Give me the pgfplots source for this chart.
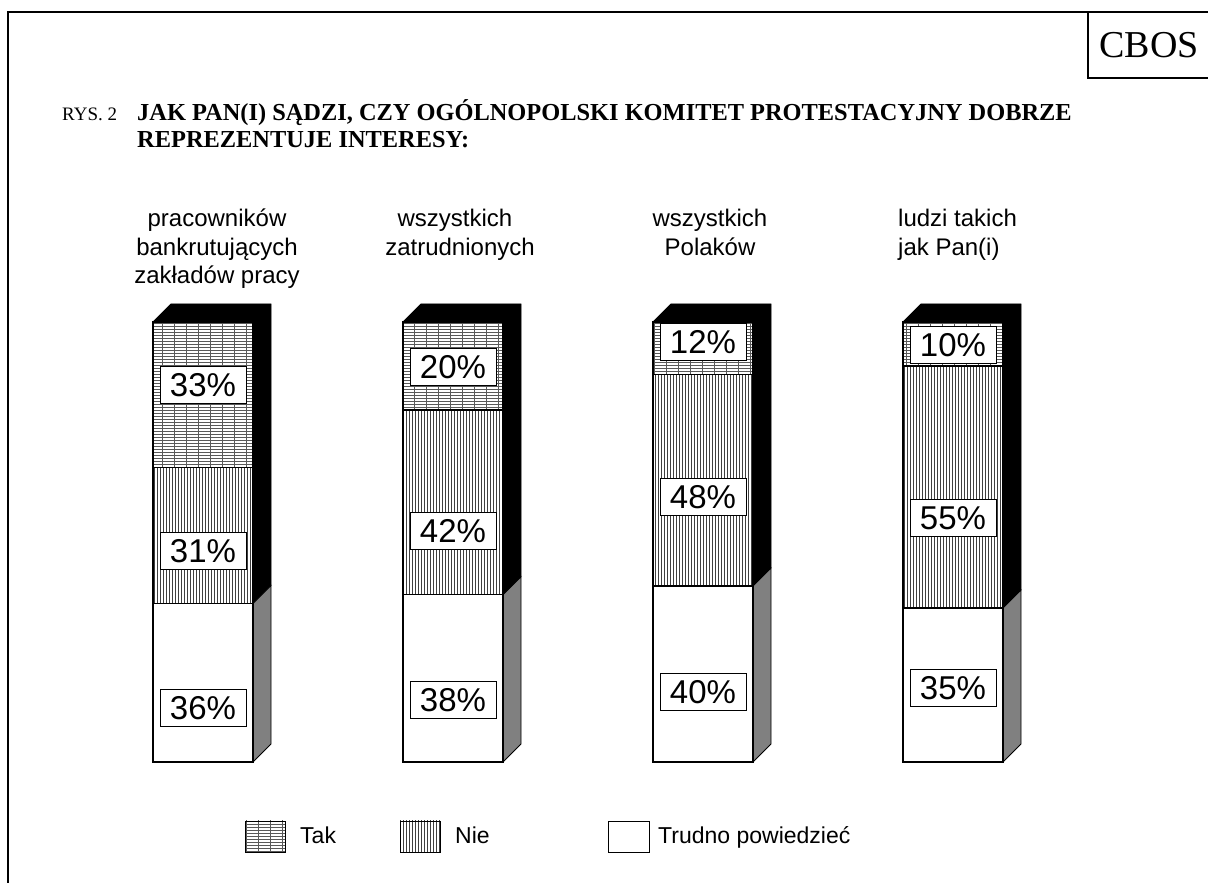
\documentclass[border=0pt]{standalone}
\usepackage{pgfplots}
\pgfplotsset{compat=1.18}
\usepackage{fontspec}
\setmainfont{Liberation Serif}
\newfontfamily\arial{Liberation Sans}
\usetikzlibrary{patterns}
\pgfdeclarepatternformonly{takpat}{\pgfpoint{-1pt}{-1pt}}{\pgfpoint{13pt}{4pt}}{\pgfpoint{12pt}{3pt}}{%
  \pgfsetlinewidth{0.7pt}%
  \pgfpathmoveto{\pgfpoint{-0.5pt}{1.5pt}}\pgfpathlineto{\pgfpoint{12.5pt}{1.5pt}}\pgfusepath{stroke}%
  \pgfsetlinewidth{0.15pt}%
  \pgfpathmoveto{\pgfpoint{6pt}{-0.5pt}}\pgfpathlineto{\pgfpoint{6pt}{3.5pt}}\pgfusepath{stroke}%
}
\pgfdeclarepatternformonly{niepat}{\pgfpoint{-1pt}{-1pt}}{\pgfpoint{4pt}{4pt}}{\pgfpoint{3pt}{3pt}}{%
  \pgfsetlinewidth{0.7pt}%
  \pgfpathmoveto{\pgfpoint{1.5pt}{-0.5pt}}\pgfpathlineto{\pgfpoint{1.5pt}{3.5pt}}\pgfusepath{stroke}%
}
\definecolor{sidegray}{HTML}{808080}
\tikzset{
  lbl/.style={draw=black, fill=white, line width=0.8pt, font=\arial\fontsize{33}{33}\selectfont,
    inner xsep=10pt, inner ysep=0pt, minimum height=37pt, minimum width=86pt},
  cat/.style={font=\arial\fontsize{24}{28.5}\selectfont, anchor=base, inner sep=0pt},
  leg/.style={font=\arial\fontsize{23}{27}\selectfont, anchor=base west, inner sep=0pt},
}
\pgfplotsset{base/.style={at={(53pt,121pt)}, anchor=south west, scale only axis,
  width=1050pt, height=440pt, xmin=-0.6, xmax=3.6, ymin=0, ymax=100,
  axis lines=none, clip=false}}
\begin{document}
\begin{tikzpicture}[x=1pt,y=1pt]
\path[use as bounding box] (0,0) rectangle (1208,883);
% frame
\draw[line width=2pt] (8,0) -- (8,871) -- (1210,871);
\draw[line width=1.6pt] (1088,871) -- (1088,805) -- (1210,805);
\node[font=\fontsize{38}{38}\selectfont] at (1149,838) {CBOS};
% header
\node[anchor=base west, inner sep=0pt, font=\fontsize{19}{22}\selectfont] at (62,762) {RYS. 2};
\node[anchor=base west, inner sep=0pt, font=\bfseries\fontsize{24.4}{27}\selectfont] at (137,762) {JAK PAN(I) SĄDZI, CZY OGÓLNOPOLSKI KOMITET PROTESTACYJNY DOBRZE};
\node[anchor=base west, inner sep=0pt, font=\bfseries\fontsize{24.4}{27}\selectfont] at (137,735) {REPREZENTUJE INTERESY:};
% category labels
\node[cat] at (217,656) {pracowników};
\node[cat] at (217,627.5) {bankrutujących};
\node[cat] at (217,599) {zakładów pracy};
\node[cat] at (455,656) {wszystkich};
\node[cat] at (460,627.5) {zatrudnionych};
\node[cat] at (710,656) {wszystkich};
\node[cat] at (710,627.5) {Polaków};
\node[cat, anchor=base west] at (898,656) {ludzi takich};
\node[cat, anchor=base west] at (898,627.5) {jak Pan(i)};

% 3D side and top faces
\begin{axis}[base]
\addplot[draw=black, line width=0.8pt, fill=black] coordinates {(-0.2,100) (-0.128,104.091) (0.272,104.091) (0.272,40.091) (0.2,36) (0.2,100)} --cycle;
\addplot[draw=black, line width=0.8pt, fill=sidegray] coordinates {(0.2,0) (0.272,4.091) (0.272,40.091) (0.2,36)} --cycle;
\addplot[draw=black, line width=0.8pt, fill=black] coordinates {(0.8,100) (0.872,104.091) (1.272,104.091) (1.272,42.091) (1.2,38) (1.2,100)} --cycle;
\addplot[draw=black, line width=0.8pt, fill=sidegray] coordinates {(1.2,0) (1.272,4.091) (1.272,42.091) (1.2,38)} --cycle;
\addplot[draw=black, line width=0.8pt, fill=black] coordinates {(1.8,100) (1.872,104.091) (2.272,104.091) (2.272,44.091) (2.2,40) (2.2,100)} --cycle;
\addplot[draw=black, line width=0.8pt, fill=sidegray] coordinates {(2.2,0) (2.272,4.091) (2.272,44.091) (2.2,40)} --cycle;
\addplot[draw=black, line width=0.8pt, fill=black] coordinates {(2.8,100) (2.872,104.091) (3.272,104.091) (3.272,39.091) (3.2,35) (3.2,100)} --cycle;
\addplot[draw=black, line width=0.8pt, fill=sidegray] coordinates {(3.2,0) (3.272,4.091) (3.272,39.091) (3.2,35)} --cycle;
\end{axis}

% front faces (stacked bars)
\begin{axis}[base, ybar stacked, bar width=100pt]
\addplot[draw=black, line width=1.2pt, fill=white] coordinates {(0,36) (1,38) (2,40) (3,35)};
\addplot[draw=black, line width=1.2pt, pattern=niepat, pattern color=black!75] coordinates {(0,31) (1,42) (2,48) (3,55)};
\addplot[draw=black, line width=1.2pt, pattern=takpat, pattern color=black!65] coordinates {(0,33) (1,20) (2,12) (3,10)};
\end{axis}

% value labels
\begin{axis}[base]
\addplot[draw=none] coordinates {(0,0)};
\node[lbl] at (axis cs:0,85.7) {33\%};
\node[lbl] at (axis cs:0,48.0) {31\%};
\node[lbl] at (axis cs:0,12.3) {36\%};
\node[lbl] at (axis cs:1,89.8) {20\%};
\node[lbl] at (axis cs:1,52.5) {42\%};
\node[lbl] at (axis cs:1,14.1) {38\%};
\node[lbl] at (axis cs:2,95.4) {12\%};
\node[lbl] at (axis cs:2,60.2) {48\%};
\node[lbl] at (axis cs:2,15.9) {40\%};
\node[lbl] at (axis cs:3,94.8) {10\%};
\node[lbl] at (axis cs:3,55.5) {55\%};
\node[lbl] at (axis cs:3,16.8) {35\%};
\end{axis}

% legend
\draw[line width=0.8pt, pattern=takpat, pattern color=black!65] (245,31) rectangle (285,62);
\node[leg] at (300,39) {Tak};
\draw[line width=0.8pt, pattern=niepat, pattern color=black!75] (400,31) rectangle (440,62);
\node[leg] at (455,39) {Nie};
\draw[line width=0.8pt, fill=white] (608,31) rectangle (649,62);
\node[leg] at (658,39) {Trudno powiedzieć};
\end{tikzpicture}
\end{document}
